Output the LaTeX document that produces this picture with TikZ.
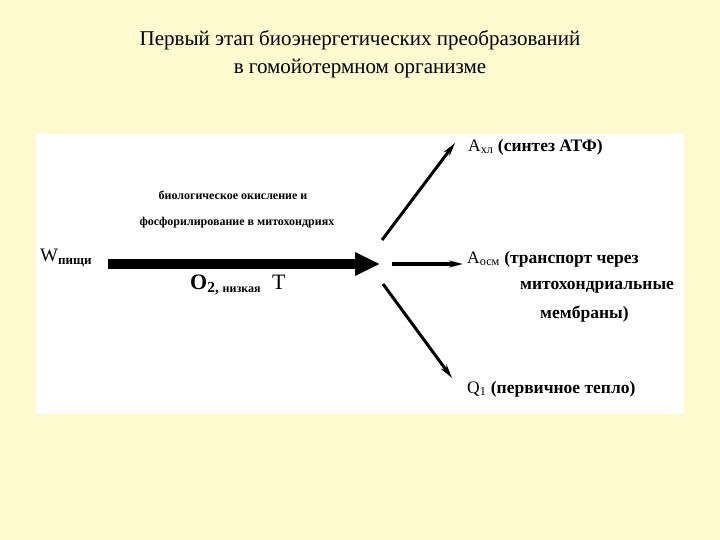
\documentclass[tikz,border=0pt]{standalone}
\usepackage{fontspec}
\setmainfont{Liberation Serif}
\usetikzlibrary{arrows.meta}
\definecolor{bg}{RGB}{252,250,206}
\tikzset{lbl/.style={anchor=west,inner sep=0pt,font=\fontsize{19}{22}\selectfont},
 blbl/.style={lbl,font=\bfseries\fontsize{17.5}{22}\selectfont},
 small/.style={inner sep=0pt,font=\bfseries\fontsize{12}{14}\selectfont},
 br/.style={line width=3pt,-{Stealth[length=14pt,width=7pt]}}}
\begin{document}
\begin{tikzpicture}[x=1pt,y=-1pt]
\fill[bg] (0,0) rectangle (720,540);
\fill[white] (36,134) rectangle (684,414);
\node[font=\fontsize{21}{28}\selectfont,align=center] (title) at (360,54) {Первый этап биоэнергетических преобразований\\в гомойотермном организме};
\node[small] (t1) at (233,195) {биологическое окисление и};
\node[small] (t2) at (237,223) {фосфорилирование в митохондриях};
\node[lbl] (w) at (40,258) {W\textsubscript{\bfseries\fontsize{13}{14}\selectfont пищи}};
\node[lbl,font=\fontsize{22}{24}\selectfont] (o2) at (190,285) {\bfseries O\textsubscript{2, \fontsize{12}{14}\selectfont низкая}\mdseries\ \ T};
\coordinate (s) at (108,264);
\coordinate (c) at (380,264);
\draw[line width=10pt,-{Triangle[length=25pt,width=22pt]}] (s) -- (c);
\node[blbl] (a1) at (468,147) {\mdseries A\textsubscript{хл} \bfseries(синтез АТФ)};
\node[blbl] (a2) at (467,259) {\mdseries A\textsubscript{осм} \bfseries(транспорт через};
\node[blbl] (a2b) at (520,287) {митохондриальные};
\node[blbl] (a2c) at (540,314) {мембраны)};
\node[blbl] (q) at (467,389) {\mdseries Q\textsubscript{1} \bfseries(первичное тепло)};
\coordinate (u0) at (382,240); \coordinate (u1) at (455,143);
\coordinate (m0) at (392,264); \coordinate (m1) at (463,264);
\coordinate (d0) at (383,284); \coordinate (d1) at (452,378);
\draw[br] (u0) -- (u1);
\draw[br,line width=4.5pt] (m0) -- (m1);
\draw[br] (d0) -- (d1);
\end{tikzpicture}
\end{document}
